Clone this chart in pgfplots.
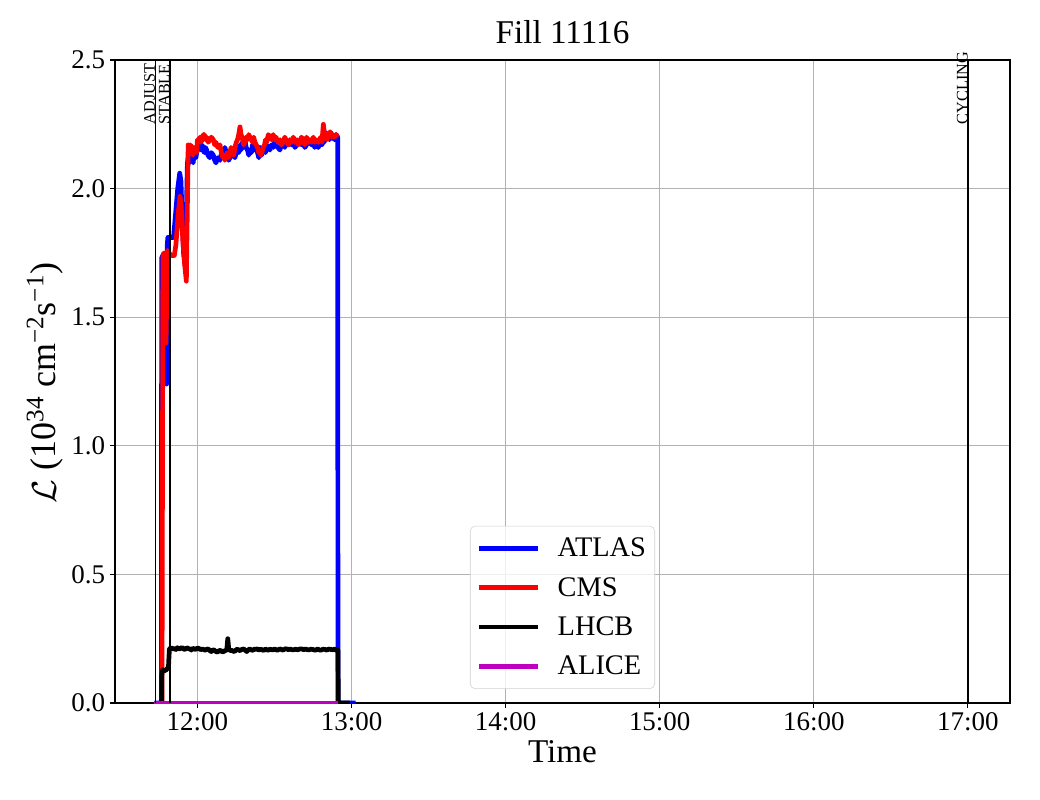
\documentclass[border=0pt]{standalone}
\usepackage{pgfplots}
\pgfplotsset{compat=1.18}
\usepackage{fontspec}
\setmainfont{Liberation Serif}
\definecolor{mplm}{rgb}{0.75,0,0.75}
\begin{document}
\begin{tikzpicture}
\begin{axis}[
  scale only axis, width=8.95in, height=6.43in,
  xmin=11.465, xmax=17.273, ymin=0, ymax=2.5,
  xtick={12,13,14,15,16,17},
  xticklabels={12:00,13:00,14:00,15:00,16:00,17:00},
  ytick={0,0.5,1,1.5,2,2.5},
  y tick label style={/pgf/number format/.cd, fixed, fixed zerofill, precision=1},
  /pgf/number format/assume math mode=true,
  tick label style={font=\fontsize{19.5}{22}\selectfont},
  grid=major, major grid style={color=gray!60, line width=0.8pt},
  axis line style={line width=0.8pt},
  tick style={black, line width=0.8pt},
  major tick length=0.05in,
  tick align=outside, xtick pos=bottom, ytick pos=left,
  title={Fill 11116},
  title style={at={(axis description cs:0.5,1.031)}, anchor=center, font=\fontsize{24}{28}\selectfont},
  xlabel={Time},
  xlabel style={at={(axis description cs:0.5,-0.0762)}, anchor=center, font=\fontsize{24}{28}\selectfont},
  ylabel={$\mathcal{L}$ (10\textsuperscript{34} cm\textsuperscript{−2}s\textsuperscript{−1})},
  ylabel style={at={(axis description cs:-0.0782,0.498)}, anchor=center, rotate=0, font=\fontsize{26}{30}\selectfont},
  legend style={at={(0.5,0.0218)}, anchor=south, draw=gray!35, rounded corners=0.05in,
    fill=white, fill opacity=0.8, text opacity=1, font=\fontsize{20.5}{24}\selectfont,
    inner xsep=0.06in, inner ysep=0.09in, row sep=0.13in,
    /tikz/every odd column/.append style={column sep=0.15in}},
  legend cell align=left,
  legend image code/.code={\draw[#1] (0,0) -- (0.59in,0);},
  every axis plot/.append style={line join=round},
]
\addplot[blue, line width=3.4pt] coordinates {
(11.720,0) (11.766,0) (11.768,1.73) (11.775,1.74) (11.785,1.72) (11.795,1.60) (11.800,1.24)
(11.804,1.78) (11.808,1.81) (11.825,1.81) (11.845,1.81) (11.858,1.90) (11.872,2.00) (11.885,2.06)
(11.893,2.03) (11.900,1.90) (11.910,1.75) (11.920,1.70) (11.928,1.90) (11.935,2.10)
(11.940,2.12) (11.945,2.10) (11.950,2.13) (11.957,2.11) (11.965,2.12) (11.972,2.10) (11.980,2.14) (11.990,2.12) (11.995,2.14) (12.000,2.15)
(12.008,2.16) (12.016,2.18) (12.023,2.15) (12.030,2.17) (12.038,2.15) (12.045,2.14) (12.052,2.16) (12.060,2.15) (12.068,2.13) (12.080,2.12) (12.090,2.14) (12.103,2.13)
(12.112,2.11) (12.120,2.10) (12.132,2.12) (12.146,2.11) (12.153,2.13) (12.160,2.14) (12.170,2.13) (12.178,2.16) (12.187,2.14) (12.195,2.13) (12.203,2.11) (12.211,2.12)
(12.218,2.14) (12.225,2.15) (12.235,2.13) (12.243,2.12) (12.252,2.14) (12.260,2.15) (12.268,2.14) (12.276,2.17) (12.283,2.15) (12.290,2.18) (12.300,2.16) (12.308,2.19)
(12.316,2.16) (12.325,2.15) (12.333,2.13) (12.341,2.15) (12.350,2.14) (12.357,2.17) (12.365,2.15) (12.373,2.17) (12.382,2.15) (12.390,2.14) (12.398,2.12) (12.405,2.16)
(12.411,2.14) (12.417,2.13) (12.427,2.15) (12.435,2.16) (12.442,2.14) (12.449,2.17) (12.460,2.16) (12.470,2.15) (12.480,2.17) (12.492,2.16) (12.500,2.18) (12.510,2.17)
(12.522,2.16) (12.535,2.15) (12.545,2.17) (12.555,2.18) (12.567,2.16) (12.579,2.19) (12.590,2.17) (12.600,2.18) (12.611,2.17) (12.622,2.18) (12.633,2.16) (12.645,2.17)
(12.655,2.18) (12.665,2.19) (12.675,2.17) (12.685,2.18) (12.697,2.16) (12.708,2.17) (12.720,2.19) (12.730,2.18) (12.741,2.17) (12.752,2.18) (12.761,2.16) (12.770,2.17)
(12.784,2.16) (12.792,2.17) (12.800,2.18) (12.808,2.17) (12.817,2.19) (12.823,2.18) (12.830,2.22) (12.840,2.20) (12.849,2.21) (12.857,2.19) (12.865,2.21) (12.873,2.20)
(12.881,2.20) (12.890,2.19) (12.900,2.21) (12.910,2.20) (12.912,0) (12.990,0) (13.027,0)
};
\addlegendentry{ATLAS}
\addplot[red, line width=3.4pt] coordinates {
(11.760,0) (11.770,0) (11.776,1.74) (11.782,1.75) (11.790,1.72) (11.796,1.40) (11.800,1.55)
(11.806,1.76) (11.815,1.75) (11.830,1.74) (11.850,1.74) (11.860,1.78) (11.875,1.90) (11.887,1.97)
(11.895,1.93) (11.905,1.80) (11.918,1.70) (11.928,1.64) (11.935,1.95) (11.940,2.17)
(11.945,2.15) (11.950,2.14) (11.955,2.17) (11.960,2.16) (11.965,2.14) (11.970,2.13) (11.978,2.16) (11.985,2.15) (11.995,2.14) (12.000,2.19)
(12.008,2.18) (12.016,2.20) (12.023,2.18) (12.030,2.19) (12.038,2.21) (12.045,2.21) (12.052,2.19) (12.060,2.20) (12.070,2.18) (12.080,2.19) (12.090,2.20) (12.103,2.19)
(12.112,2.17) (12.120,2.18) (12.132,2.16) (12.146,2.17) (12.155,2.14) (12.165,2.12) (12.172,2.13) (12.178,2.11) (12.187,2.13) (12.195,2.14) (12.203,2.12) (12.211,2.14)
(12.218,2.16) (12.225,2.15) (12.235,2.13) (12.243,2.16) (12.252,2.18) (12.260,2.19) (12.268,2.21) (12.276,2.24) (12.283,2.21) (12.290,2.20) (12.300,2.17) (12.308,2.18)
(12.316,2.20) (12.325,2.19) (12.333,2.21) (12.341,2.20) (12.350,2.19) (12.357,2.18) (12.365,2.20) (12.373,2.18) (12.382,2.17) (12.390,2.16) (12.398,2.14) (12.405,2.15)
(12.411,2.13) (12.417,2.14) (12.427,2.16) (12.435,2.17) (12.442,2.19) (12.449,2.18) (12.460,2.21) (12.470,2.20) (12.480,2.19) (12.492,2.21) (12.500,2.19) (12.510,2.20)
(12.522,2.18) (12.535,2.19) (12.545,2.17) (12.555,2.18) (12.567,2.20) (12.579,2.18) (12.590,2.17) (12.600,2.19) (12.611,2.18) (12.622,2.20) (12.633,2.18) (12.645,2.19)
(12.655,2.17) (12.665,2.18) (12.675,2.20) (12.685,2.19) (12.697,2.17) (12.708,2.20) (12.720,2.18) (12.730,2.19) (12.741,2.18) (12.752,2.20) (12.761,2.18) (12.770,2.19)
(12.784,2.18) (12.792,2.19) (12.800,2.20) (12.808,2.18) (12.817,2.25) (12.823,2.22) (12.830,2.21) (12.840,2.19) (12.849,2.20) (12.857,2.22) (12.865,2.22) (12.873,2.20)
(12.881,2.21) (12.890,2.20) (12.900,2.21) (12.908,2.20)
};
\addlegendentry{CMS}
\addplot[black, line width=3.4pt] coordinates {
(11.768,0) (11.769,0.11) (11.775,0.13) (11.785,0.125) (11.800,0.13) (11.812,0.14) (11.818,0.21)
(11.830,0.215) (11.840,0.21) (11.850,0.212) (11.860,0.208) (11.870,0.215) (11.880,0.21) (11.890,0.212) (11.900,0.216) (11.910,0.21) (11.920,0.208) (11.930,0.215)
(11.940,0.212) (11.950,0.21) (11.960,0.206) (11.970,0.213) (11.980,0.21) (11.990,0.208) (12.000,0.214) (12.010,0.212) (12.020,0.207) (12.030,0.21) (12.040,0.208) (12.050,0.205)
(12.060,0.209) (12.070,0.21) (12.080,0.204) (12.090,0.20) (12.100,0.207) (12.110,0.205) (12.120,0.20) (12.130,0.198) (12.140,0.203) (12.150,0.205) (12.160,0.199) (12.170,0.20)
(12.180,0.204) (12.190,0.205) (12.197,0.25) (12.203,0.21) (12.210,0.204) (12.220,0.205) (12.230,0.202) (12.240,0.20) (12.250,0.206) (12.260,0.21) (12.270,0.204)
(12.280,0.205) (12.290,0.209) (12.300,0.21) (12.310,0.205) (12.320,0.20) (12.330,0.207) (12.340,0.21) (12.350,0.206) (12.360,0.205) (12.370,0.21) (12.380,0.208)
(12.390,0.211) (12.400,0.205) (12.410,0.209) (12.420,0.207) (12.430,0.204) (12.440,0.21) (12.450,0.207) (12.460,0.205) (12.470,0.209) (12.480,0.208) (12.490,0.206) (12.500,0.21)
(12.510,0.207) (12.520,0.205) (12.530,0.209) (12.540,0.21) (12.550,0.206) (12.560,0.207) (12.570,0.211) (12.580,0.21) (12.590,0.207) (12.600,0.21) (12.610,0.208) (12.620,0.206)
(12.635,0.209) (12.650,0.207) (12.665,0.21) (12.680,0.21) (12.690,0.207) (12.700,0.21) (12.710,0.208) (12.720,0.206) (12.735,0.209) (12.750,0.208) (12.765,0.205) (12.780,0.21)
(12.790,0.207) (12.800,0.205) (12.815,0.209) (12.830,0.208) (12.840,0.205) (12.850,0.21) (12.865,0.208) (12.880,0.207) (12.890,0.21) (12.900,0.205) (12.912,0.205)
(12.914,0) (12.990,0)
};
\addlegendentry{LHCB}
\addplot[mplm, line width=3.4pt] coordinates {(11.720,0) (12.913,0)};
\addlegendentry{ALICE}
\addplot[black, line width=1pt, forget plot] coordinates {(11.726,0) (11.726,2.5)};
\addplot[black, line width=1pt, forget plot] coordinates {(11.823,0) (11.823,2.5)};
\addplot[black, line width=1pt, forget plot] coordinates {(17.0,0) (17.0,2.5)};
\coordinate (adj) at (axis cs:11.726,2.265);
\coordinate (stb) at (axis cs:11.823,2.265);
\coordinate (cyc) at (axis cs:17.0,2.265);
\end{axis}
\begin{scope}[every node/.style={rotate=90, anchor=south west, inner sep=0pt, font=\fontsize{11.7}{14}\selectfont}]
\node[xshift=-0.04in] at (adj) {ADJUST};
\node[xshift=-0.04in] at (stb) {STABLE};
\node[xshift=-0.04in] at (cyc) {CYCLING};
\end{scope}
\pgfresetboundingbox
\path[use as bounding box] ([xshift=-1.15in, yshift=-0.97in]current axis.south west) rectangle ([xshift=0.30in, yshift=0.60in]current axis.north east);
\end{tikzpicture}
\end{document}
